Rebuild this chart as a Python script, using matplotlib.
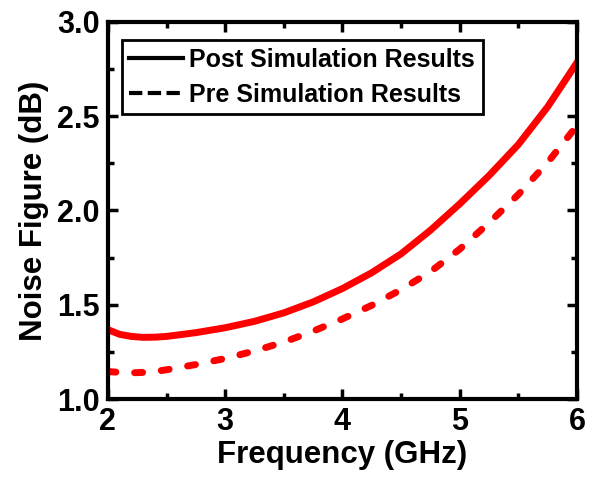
import matplotlib
matplotlib.use("Agg")
import matplotlib.pyplot as plt
from matplotlib.lines import Line2D
from matplotlib.ticker import MultipleLocator, FormatStrFormatter

freq = [2.0, 2.1, 2.2, 2.3, 2.4, 2.5, 2.75, 3.0, 3.25, 3.5, 3.75, 4.0, 4.25, 4.5, 4.75, 5.0, 5.25, 5.5, 5.75, 6.0]
post_nf = [1.368, 1.343, 1.332, 1.327, 1.328, 1.332, 1.352, 1.378, 1.412, 1.457, 1.515, 1.586, 1.67, 1.77, 1.895, 2.035, 2.185, 2.35, 2.55, 2.785]
pre_nf = [1.146, 1.141, 1.139, 1.141, 1.146, 1.155, 1.183, 1.215, 1.255, 1.302, 1.36, 1.425, 1.497, 1.58, 1.675, 1.795, 1.935, 2.085, 2.255, 2.45]
labels = ["Post Simulation Results", "Pre Simulation Results"]

plt.rcParams['font.family'] = ['Liberation Sans', 'DejaVu Sans']
plt.rcParams['font.weight'] = 'bold'

fig = plt.figure(figsize=(5.93, 4.84), dpi=100)
ax = fig.add_axes([0.182, 0.1756, 0.791, 0.779])

ax.plot(freq, post_nf, color='#ff0000', lw=5, solid_joinstyle='round')
ax.plot(freq, pre_nf, color='#ff0000', lw=5, ls=(0, (1.15, 2.7)),
        dash_capstyle='round', dash_joinstyle='round')

ax.set_xlim(2, 6)
ax.set_ylim(1.0, 3.0)
ax.xaxis.set_major_locator(MultipleLocator(1))
ax.xaxis.set_minor_locator(MultipleLocator(0.5))
ax.yaxis.set_major_locator(MultipleLocator(0.5))
ax.yaxis.set_minor_locator(MultipleLocator(0.25))
ax.yaxis.set_major_formatter(FormatStrFormatter('%.1f'))
ax.tick_params(which='both', direction='in', top=True, right=True, width=2.5)
ax.tick_params(which='major', length=7, labelsize=22, pad=6)
ax.tick_params(which='minor', length=4)
for lab in ax.get_xticklabels() + ax.get_yticklabels():
    lab.set_fontweight('bold')
for s in ax.spines.values():
    s.set_linewidth(3)

ax.set_xlabel("Frequency (GHz)", fontsize=22.5, fontweight='bold', labelpad=2)
ax.set_ylabel("Noise Figure (dB)", fontsize=22.5, fontweight='bold', labelpad=6)

handles = [Line2D([], [], color='black', lw=3),
           Line2D([], [], color='black', lw=3, ls=(0, (3.2, 1.3)))]
leg = ax.legend(handles, labels, loc='upper left', bbox_to_anchor=(0.03, 0.952),
                borderaxespad=0, frameon=True, fancybox=False, edgecolor='black',
                handlelength=2.16, handletextpad=0.24, borderpad=0.3, labelspacing=0.45,
                prop={'weight': 'bold', 'size': 18})
leg.get_frame().set_linewidth(2)
leg.get_frame().set_alpha(1)

fig.savefig("out.png", dpi=100)
